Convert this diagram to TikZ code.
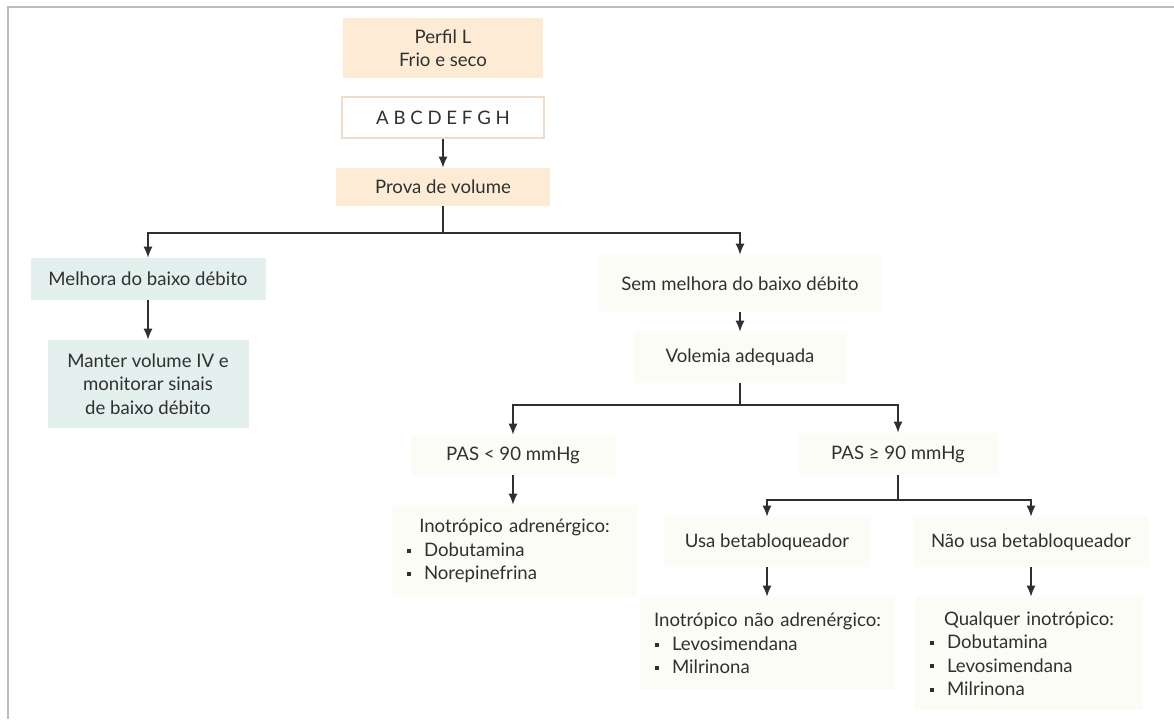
\documentclass[tikz,border=0pt]{standalone}
\usepackage{fontspec}
\setmainfont{Lato}
\usepackage{tikz}
\usetikzlibrary{arrows.meta,positioning,calc}

\definecolor{ink}{HTML}{303030}
\definecolor{peach}{HTML}{FDEBD6}
\definecolor{peachline}{HTML}{F0DCC8}
\definecolor{mint}{HTML}{E3F0EE}
\definecolor{paper}{HTML}{FCFCF7}
\definecolor{framegray}{HTML}{BBBBBB}

% square bullet for the drug lists
\newcommand{\bul}{\hspace*{7.5pt}\rule[0.2em]{2pt}{2pt}\hspace{6.5pt}}

\begin{document}
\begin{tikzpicture}[
    x=0.5pt, y=-0.5pt,
    font=\fontsize{9.3}{11.75}\selectfont,
    box/.style={rectangle, inner sep=0pt, align=center, text=ink},
    warm/.style={box, fill=peach},
    cool/.style={box, fill=mint},
    pale/.style={box, fill=paper},
    list/.style={pale, align=left},
    link/.style={line width=0.6pt, draw=ink},
    arrow/.style={link, -{Latex[length=5.5pt,width=4.5pt]}}
]
    \useasboundingbox (0,0) rectangle (1174,719);
    \draw[framegray, line width=0.8pt] (8,719) -- (8,7) -- (1174,7);

    \node[warm, minimum width=100pt, minimum height=30pt] (perfil) at (443,48) {Perfil L\\Frio e seco};
    \node[box, draw=peachline, line width=0.8pt, fill=white, minimum width=101pt, minimum height=20.5pt] (abc) at (443,117.5) {A B C D E F G H};
    \node[warm, minimum width=107pt, minimum height=19pt] (prova) at (443,187) {Prova de volume};

    \node[cool, minimum width=117.5pt, minimum height=21pt] (melhora) at (148,279) {Melhora do baixo débito};
    \node[cool, minimum width=100.5pt, minimum height=44pt] (manter) at (148,384) {Manter volume IV e\\monitorar sinais\\de baixo débito};

    \node[pale, minimum width=141.5pt, minimum height=28.5pt] (sem) at (740,283.5) {Sem melhora do baixo débito};
    \node[pale, minimum width=106.5pt, minimum height=25.5pt] (volemia) at (740,357.5) {Volemia adequada};

    \node[pale, minimum width=102.5pt, minimum height=20pt] (pasmenor) at (513,455) {PAS < 90 mmHg};
    \node[list, text width=122.5pt, minimum height=46pt] (adren) at (514.5,551)
        {\makebox[\hsize]{Inotrópico adrenérgico:}\\\bul Dobutamina\\\bul Norepinefrina};

    \node[pale, minimum width=100pt, minimum height=21pt] (pasmaior) at (898,454) {PAS ≥ 90 mmHg};
    \node[pale, minimum width=103pt, minimum height=25pt] (usa) at (767,542) {Usa betabloqueador};
    \node[list, text width=127.5pt, minimum height=46.5pt] (naoadren) at (767.5,643.5)
        {\makebox[\hsize]{Inotrópico não adrenérgico:}\\\bul Levosimendana\\\bul Milrinona};
    \node[pale, minimum width=117.5pt, minimum height=25pt] (naousa) at (1031,542) {Não usa betabloqueador};
    \node[list, text width=114pt, minimum height=56.5pt] (qualquer) at (1029,653.5)
        {\makebox[\hsize]{Qualquer inotrópico:}\\\bul Dobutamina\\\bul Levosimendana\\\bul Milrinona};

    % branch points
    \coordinate (split1) at (443,233);
    \coordinate (split2) at (740,405);
    \coordinate (split3) at (898,500);

    \draw[arrow] (abc) -- (prova);
    \draw[link] (prova) -- (split1);
    \draw[arrow] (split1) -| (melhora);
    \draw[arrow] (split1) -| (sem);
    \draw[arrow] (melhora) -- (manter);
    \draw[arrow] (sem) -- (volemia);
    \draw[link] (volemia) -- (split2);
    \draw[arrow] (split2) -| (pasmenor);
    \draw[arrow] (split2) -| (pasmaior);
    \draw[arrow] (pasmenor) -- (pasmenor |- adren.north);
    \draw[link] (pasmaior) -- (split3);
    \draw[arrow] (split3) -| (usa);
    \draw[arrow] (split3) -| (naousa);
    \draw[arrow] (usa) -- (usa |- naoadren.north);
    \draw[arrow] (naousa) -- (naousa |- qualquer.north);
\end{tikzpicture}
\end{document}
